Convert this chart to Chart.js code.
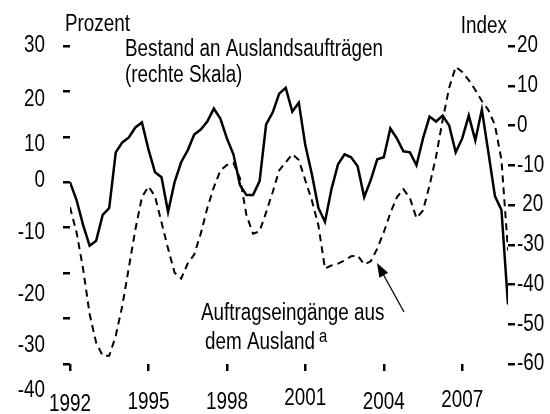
<!DOCTYPE html>
<html lang="de">
<head>
    <meta charset="UTF-8">
    <title>Auslandsaufträge</title>
    <script src="https://cdn.jsdelivr.net/npm/chart.js"></script>
    <style>
        body {
            margin: 0;
            padding: 0;
            background: #fff;
        }
        canvas {
            display: block;
        }
    </style>
</head>
<body>

<canvas id="orderChart" width="550" height="414"></canvas>

<script>
    // Quartalswerte ab 1992 Q1
    const startYear = 1992;
    const yearTicks = [1992, 1995, 1998, 2001, 2004, 2007];
    const leftTicks = [30, 20, 10, 0, -10, -20, -30, -40];
    const rightTicks = [20, 10, 0, -10, -20, -30, -40, -50, -60];
    // im Original fehlt bei -20 das Minuszeichen
    const rightLabels = ['20', '10', '0', '-10', ' 20', '-30', '-40', '-50', '-60'];

    // Bestand an Auslandsaufträgen, Index (rechte Skala)
    const bestand = [
        -14.25, -18.75, -25, -30.25,
        -29, -22.5, -20.75, -6.75,
        -4.25, -3, -0.5, 0.75,
        -6, -11.75, -13, -21.75,
        -14.25, -9.25, -6.25, -2.25,
        -1, 1, 4.25, 1.75,
        -3.25, -7.25, -15, -17.5,
        -17.5, -14, 0.25, 3.25,
        8, 9.5, 3.5, 5.75,
        -5, -12.25, -20.75, -24.25,
        -16, -9.75, -7.25, -8,
        -10.25, -18, -13.75, -8.5,
        -8, -0.75, -3.25, -6.5,
        -6.75, -10, -3.25, 2.25,
        1, 2.5, 0, -6.75,
        -3.25, 2.5, -3.75, 4,
        -6.75, -17.75, -21.25, -45
    ];

    // Auftragseingänge aus dem Ausland, Prozent (linke Skala)
    const eingaenge = [
        -5.5, -11, -19, -29,
        -35.3, -38.2, -38.2, -33.8,
        -27.2, -18.8, -10.4, -3.3,
        -0.9, -3.1, -8.8, -14.6,
        -19.9, -21.2, -17.9, -15.9,
        -11.3, -5.7, -1.1, 2.6,
        3.8, 4.2, 0.9, -7.3,
        -11.3, -10.8, -6.6, -2.2,
        2.6, 4.4, 6.2, 4.9,
        0.4, -4, -9.5, -19,
        -18.3, -17.9, -17.2, -16.3,
        -16.1, -18.1, -17.4, -14.6,
        -11, -6.8, -3.3, -1.5,
        -3.5, -7.9, -6.2, -0.7,
        5.7, 13.7, 20.8, 25.4,
        24.3, 22.5, 20.3, 17.9,
        15.9, 12.6, 4.9, -15
    ];

    const toPoints = arr => arr.map((v, i) => ({ x: startYear + i / 4, y: v }));

    const family = "'Liberation Sans', Arial, sans-serif";
    // Schmalschrift nachbilden: Text horizontal gestaucht
    const squeeze = 0.82;

    // die Beschriftungen sitzen im Original etwas versetzt
    const leftLabelShift = [0, 8, 8, -2, 5, 22, 27, 27];
    const yearLabelShift = [3, 1, 1, -3, 1, -1];

    function text(ctx, str, x, y, align, size) {
        ctx.save();
        ctx.font = size + 'px ' + family;
        ctx.textAlign = align;
        ctx.textBaseline = 'middle';
        ctx.translate(x, y);
        ctx.scale(squeeze, 1);
        ctx.fillText(str, 0, 0);
        ctx.restore();
    }

    // Achsenbeschriftungen, Texte und Pfeil
    const annotations = {
        id: 'annotations',
        afterDraw(chart) {
            const ctx = chart.ctx;
            const { x, y, y2 } = chart.scales;
            ctx.save();
            ctx.fillStyle = '#000';
            ctx.strokeStyle = '#000';

            leftTicks.forEach((v, i) => {
                text(ctx, String(v), 45, y.getPixelForValue(v) + leftLabelShift[i], 'right', 23);
            });
            rightTicks.forEach((v, i) => {
                text(ctx, rightLabels[i], 517, y2.getPixelForValue(v), 'left', 23);
            });
            yearTicks.forEach((v, i) => {
                text(ctx, String(v), x.getPixelForValue(v), 402 + yearLabelShift[i], 'center', 23);
            });

            text(ctx, 'Prozent', 65, 25, 'left', 23);
            text(ctx, 'Index', 507, 27, 'right', 23);
            text(ctx, 'Bestand an Auslandsaufträgen', 125, 50, 'left', 23);
            text(ctx, '(rechte Skala)', 125, 76, 'left', 23);
            text(ctx, 'Auftragseingänge aus', 201, 314, 'left', 23);
            text(ctx, 'dem Ausland', 205, 343, 'left', 23);
            text(ctx, 'a', 319, 337, 'left', 18);

            // Pfeil
            const x0 = 404, y0 = 312, x1 = 377, y1 = 263;
            const ang = Math.atan2(y1 - y0, x1 - x0);
            ctx.lineWidth = 1.3;
            ctx.beginPath();
            ctx.moveTo(x0, y0);
            ctx.lineTo(x1 - 8 * Math.cos(ang), y1 - 8 * Math.sin(ang));
            ctx.stroke();
            ctx.beginPath();
            ctx.moveTo(x1, y1);
            ctx.lineTo(x1 - 14 * Math.cos(ang) + 5 * Math.sin(ang), y1 - 14 * Math.sin(ang) - 5 * Math.cos(ang));
            ctx.lineTo(x1 - 14 * Math.cos(ang) - 5 * Math.sin(ang), y1 - 14 * Math.sin(ang) + 5 * Math.cos(ang));
            ctx.closePath();
            ctx.fill();
            ctx.restore();
        }
    };

    const tickGrid = {
        drawOnChartArea: false,
        drawTicks: true,
        tickLength: 7,
        lineWidth: 2.5,
        color: '#000'
    };

    new Chart(document.getElementById('orderChart'), {
        type: 'line',
        data: {
            datasets: [{
                label: 'Bestand an Auslandsaufträgen',
                data: toPoints(bestand),
                yAxisID: 'y2',
                borderColor: '#000',
                borderWidth: 2.5,
                pointRadius: 0,
                tension: 0,
                fill: false
            }, {
                label: 'Auftragseingänge aus dem Ausland',
                data: toPoints(eingaenge),
                yAxisID: 'y',
                borderColor: '#000',
                borderWidth: 2,
                borderDash: [7, 5],
                pointRadius: 0,
                tension: 0,
                fill: false
            }]
        },
        options: {
            responsive: false,
            animation: false,
            devicePixelRatio: 1,
            layout: { padding: { top: 46, left: 0, right: 0, bottom: 0 } },
            plugins: {
                legend: { display: false },
                tooltip: { enabled: false }
            },
            scales: {
                x: {
                    type: 'linear',
                    min: 1992,
                    max: 2008.75,
                    afterBuildTicks: s => { s.ticks = yearTicks.map(v => ({ value: v })); },
                    afterFit: s => { s.height = 50; },
                    grid: tickGrid,
                    border: { display: false },
                    ticks: { display: false }
                },
                y: {
                    position: 'left',
                    min: -40,
                    max: 30,
                    afterBuildTicks: s => { s.ticks = leftTicks.map(v => ({ value: v })); },
                    afterFit: s => { s.width = 70; },
                    grid: tickGrid,
                    border: { display: false },
                    ticks: { display: false }
                },
                y2: {
                    position: 'right',
                    min: -60,
                    max: 20,
                    afterBuildTicks: s => { s.ticks = rightTicks.map(v => ({ value: v })); },
                    afterFit: s => { s.width = 42; },
                    grid: tickGrid,
                    border: { display: false },
                    ticks: { display: false }
                }
            }
        },
        plugins: [annotations]
    });
</script>

</body>
</html>
